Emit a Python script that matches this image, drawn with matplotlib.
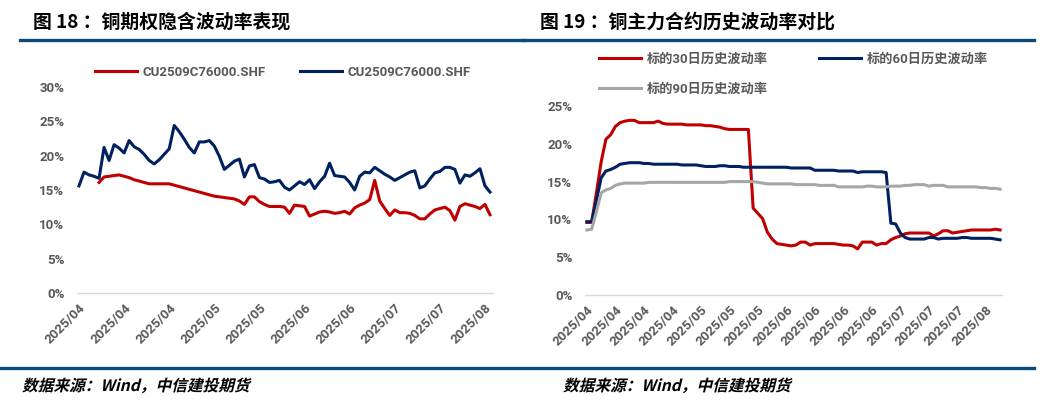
import numpy as np
import matplotlib
matplotlib.use('Agg')
import matplotlib.pyplot as plt
from matplotlib.lines import Line2D
from matplotlib.textpath import TextPath
from matplotlib.patches import PathPatch
from matplotlib.font_manager import FontProperties
from matplotlib.transforms import Affine2D, IdentityTransform

plt.rcParams['font.family'] = ['Roboto', 'Noto Sans CJK SC', 'DejaVu Sans']

# left chart: implied vol (%)
left_ticks = ['2025/04', '2025/04', '2025/04', '2025/05', '2025/05',
              '2025/06', '2025/06', '2025/07', '2025/07', '2025/08']
left_labels = ['CU2509C76000.SHF', 'CU2509C76000.SHF']
iv_blue = [15.6, 17.6, 17.2, 17.0, 16.7, 21.2, 19.3, 21.6, 21.1, 20.4,
           22.2, 21.3, 20.9, 20.2, 19.3, 18.8, 19.4, 20.2, 21.0, 24.4,
           23.5, 22.4, 21.2, 20.4, 22.0, 22.0, 22.2, 21.4, 19.9, 18.0,
           18.6, 19.2, 19.5, 16.9, 18.5, 18.7, 16.8, 16.6, 16.1, 16.2,
           16.4, 15.4, 15.0, 15.6, 16.2, 15.8, 16.5, 15.2, 16.2, 17.0,
           18.9, 17.1, 17.0, 16.9, 16.1, 15.0, 17.0, 17.6, 17.5, 18.3,
           17.8, 17.3, 16.9, 16.4, 16.8, 17.2, 17.6, 17.8, 15.3, 15.6,
           16.6, 17.5, 17.7, 18.3, 18.3, 18.0, 16.0, 17.2, 17.0, 17.5,
           18.1, 15.6, 14.7]
iv_red = [np.nan, np.nan, np.nan, np.nan, 16.1, 16.9, 17.0, 17.1, 17.2, 17.0,
          16.8, 16.5, 16.3, 16.1, 15.9, 15.9, 15.9, 15.9, 15.9, 15.7,
          15.5, 15.3, 15.1, 14.9, 14.7, 14.5, 14.3, 14.1, 14.0, 13.9,
          13.8, 13.7, 13.4, 12.9, 14.0, 14.0, 13.3, 12.9, 12.6, 12.6,
          12.6, 12.5, 11.6, 12.8, 12.7, 12.6, 11.2, 11.5, 11.8, 11.9,
          11.8, 11.6, 11.7, 11.9, 11.5, 12.4, 12.8, 13.1, 13.6, 16.4,
          13.4, 12.3, 11.3, 12.1, 11.7, 11.7, 11.6, 11.3, 10.8, 10.8,
          11.5, 12.1, 12.3, 12.5, 12.0, 10.6, 12.6, 13.0, 12.8, 12.6,
          12.3, 12.9, 11.4]

# right chart: historical vol (%)
right_ticks = ['2025/04', '2025/04', '2025/04', '2025/04', '2025/05',
               '2025/05', '2025/05', '2025/06', '2025/06', '2025/06',
               '2025/06', '2025/07', '2025/07', '2025/07', '2025/08']
right_labels = ['标的30日历史波动率', '标的60日历史波动率', '标的90日历史波动率']
hv30 = [9.6, 9.6, 13.5, 17.6, 20.6, 21.2, 22.3, 22.8, 23.0, 23.1,
        23.1, 22.8, 22.8, 22.8, 22.8, 23.0, 22.7, 22.6, 22.6, 22.6,
        22.6, 22.5, 22.5, 22.5, 22.5, 22.4, 22.4, 22.3, 22.2, 22.0,
        21.9, 21.9, 21.9, 21.9, 21.9, 11.5, 10.8, 10.1, 8.3, 7.4,
        6.8, 6.7, 6.6, 6.5, 6.6, 7.0, 7.0, 6.6, 6.8, 6.8,
        6.8, 6.8, 6.8, 6.7, 6.6, 6.6, 6.5, 6.1, 7.0, 7.0,
        7.0, 6.6, 6.8, 6.8, 7.3, 7.6, 7.8, 8.1, 8.2, 8.2,
        8.2, 8.2, 8.2, 7.8, 8.1, 8.5, 8.5, 8.2, 8.3, 8.4,
        8.5, 8.6, 8.6, 8.6, 8.6, 8.6, 8.7, 8.6]
hv60 = [9.7, 9.7, 12.5, 15.5, 16.4, 16.6, 16.9, 17.3, 17.4, 17.5,
        17.5, 17.5, 17.4, 17.4, 17.3, 17.3, 17.3, 17.3, 17.3, 17.3,
        17.2, 17.2, 17.2, 17.2, 17.1, 17.0, 17.0, 17.0, 17.1, 17.1,
        17.0, 17.0, 17.0, 16.9, 16.9, 16.9, 16.9, 16.9, 16.9, 16.9,
        16.9, 16.9, 16.9, 16.8, 16.8, 16.8, 16.8, 16.8, 16.5, 16.5,
        16.5, 16.5, 16.5, 16.4, 16.4, 16.4, 16.4, 16.2, 16.3, 16.3,
        16.3, 16.3, 16.3, 16.2, 9.5, 9.4, 8.2, 7.6, 7.4, 7.4,
        7.4, 7.4, 7.6, 7.6, 7.4, 7.5, 7.5, 7.5, 7.5, 7.6,
        7.6, 7.5, 7.5, 7.5, 7.5, 7.5, 7.4, 7.3]
hv90 = [8.6, 8.7, 11.0, 13.5, 13.9, 14.1, 14.5, 14.7, 14.8, 14.8,
        14.8, 14.8, 14.8, 14.9, 14.9, 14.9, 14.9, 14.9, 14.9, 14.9,
        14.9, 14.9, 14.9, 14.9, 14.9, 14.9, 14.9, 14.9, 14.9, 14.9,
        15.0, 15.0, 15.0, 15.0, 15.0, 15.0, 14.9, 14.8, 14.7, 14.7,
        14.7, 14.7, 14.7, 14.7, 14.6, 14.6, 14.6, 14.6, 14.6, 14.5,
        14.5, 14.5, 14.5, 14.3, 14.3, 14.3, 14.3, 14.3, 14.3, 14.4,
        14.4, 14.3, 14.3, 14.3, 14.4, 14.4, 14.4, 14.5, 14.5, 14.6,
        14.6, 14.6, 14.4, 14.5, 14.5, 14.5, 14.3, 14.3, 14.3, 14.3,
        14.3, 14.3, 14.3, 14.2, 14.2, 14.1, 14.1, 14.0]

RED = '#C00000'
NAVY = '#002060'
GREY = '#A6A6A6'
TXT = '#595959'
RULE = '#0B4A7C'
W, H = 1048, 409
FS = 9.5


def fx(px):
    return px / W


def fy(py):
    return 1 - py / H


fig = plt.figure(figsize=(W / 100, H / 100), dpi=100)

# header / footer rules
for x0, x1 in [(20, 524), (524, 1034)]:
    fig.add_artist(Line2D([fx(x0), fx(x1)], [fy(40), fy(40)], color=RULE, lw=2.4))
fig.add_artist(Line2D([fx(0), fx(1034)], [fy(368), fy(368)], color=RULE, lw=2.4))

title_font = ['Noto Sans CJK SC', 'DejaVu Sans']
fig.text(fx(33), fy(22), '图 18 ：铜期权隐含波动率表现', family=title_font,
         fontsize=13.6, fontweight='bold', va='center', ha='left')
fig.text(fx(540), fy(22), '图 19 ：铜主力合约历史波动率对比', family=title_font,
         fontsize=13.6, fontweight='bold', va='center', ha='left')

# source line, sheared to look italic
src_prop = FontProperties(family='Noto Sans CJK SC', weight='bold')
for xs in [22, 563]:
    tp = TextPath((0, 0), '数据来源：Wind，中信建投期货', size=11.3, prop=src_prop)
    tr = Affine2D().skew_deg(14, 0).scale(100 / 72).translate(xs, H - 391)
    fig.add_artist(PathPatch(tr.transform_path(tp), transform=IdentityTransform(),
                             color='black', lw=0))


def style_axis(ax, ticks, step, ymax, ystep):
    for s in ['top', 'right', 'left']:
        ax.spines[s].set_visible(False)
    ax.spines['bottom'].set_color('#D9D9D9')
    ax.spines['bottom'].set_linewidth(1.0)
    ax.set_ylim(0, ymax)
    yt = np.arange(0, ymax + 0.1, ystep)
    ax.set_yticks(yt)
    ax.set_yticklabels([f'{int(v)}%' for v in yt])
    ax.set_xticks(np.arange(len(ticks)) * step)
    ax.set_xticklabels(ticks, rotation=45, ha='right', rotation_mode='anchor')
    ax.tick_params(length=0, colors=TXT, labelsize=FS)
    ax.tick_params(axis='x', pad=6)
    ax.tick_params(axis='y', pad=9)
    for lab in ax.get_xticklabels() + ax.get_yticklabels():
        lab.set_fontweight('bold')


def style_legend(leg):
    for t in leg.get_texts():
        t.set_color(TXT)
        t.set_fontweight('bold')


# left chart
axl = fig.add_axes([fx(77), fy(293), fx(493 - 77), fy(87) - fy(293)])
xl = np.arange(len(iv_blue))
axl.plot(xl, iv_red, color=RED, lw=2.2, label=left_labels[0])
axl.plot(xl, iv_blue, color=NAVY, lw=2.2, label=left_labels[1])
axl.set_xlim(-0.4, 82.6)
style_axis(axl, left_ticks, 9, 30, 5)
leg = axl.legend(loc='center left', bbox_to_anchor=(fx(95), fy(72)),
                 bbox_transform=fig.transFigure, ncol=2, frameon=False,
                 fontsize=FS, handlelength=3.2, handletextpad=0.4,
                 columnspacing=2.6, borderpad=0, borderaxespad=0)
style_legend(leg)

# right chart
axr = fig.add_axes([fx(585), fy(295), fx(1002 - 585), fy(106) - fy(295)])
xr = np.arange(len(hv30))
l30, = axr.plot(xr, hv30, color=RED, lw=2.2, label=right_labels[0])
l60, = axr.plot(xr, hv60, color=NAVY, lw=2.2, label=right_labels[1])
l90, = axr.plot(xr, hv90, color=GREY, lw=2.2, label=right_labels[2])
axr.set_xlim(-0.4, 87.4)
style_axis(axr, right_ticks, 6, 25, 5)
leg = axr.legend([l30, l90, l60], [right_labels[0], right_labels[2], right_labels[1]],
                 loc='upper left', bbox_to_anchor=(fx(599), fy(53)),
                 bbox_transform=fig.transFigure, ncol=2, frameon=False,
                 fontsize=FS, handlelength=3.2, handletextpad=0.4,
                 columnspacing=3.9, labelspacing=1.25, borderpad=0, borderaxespad=0)
style_legend(leg)

fig.savefig('out.png', dpi=100)
